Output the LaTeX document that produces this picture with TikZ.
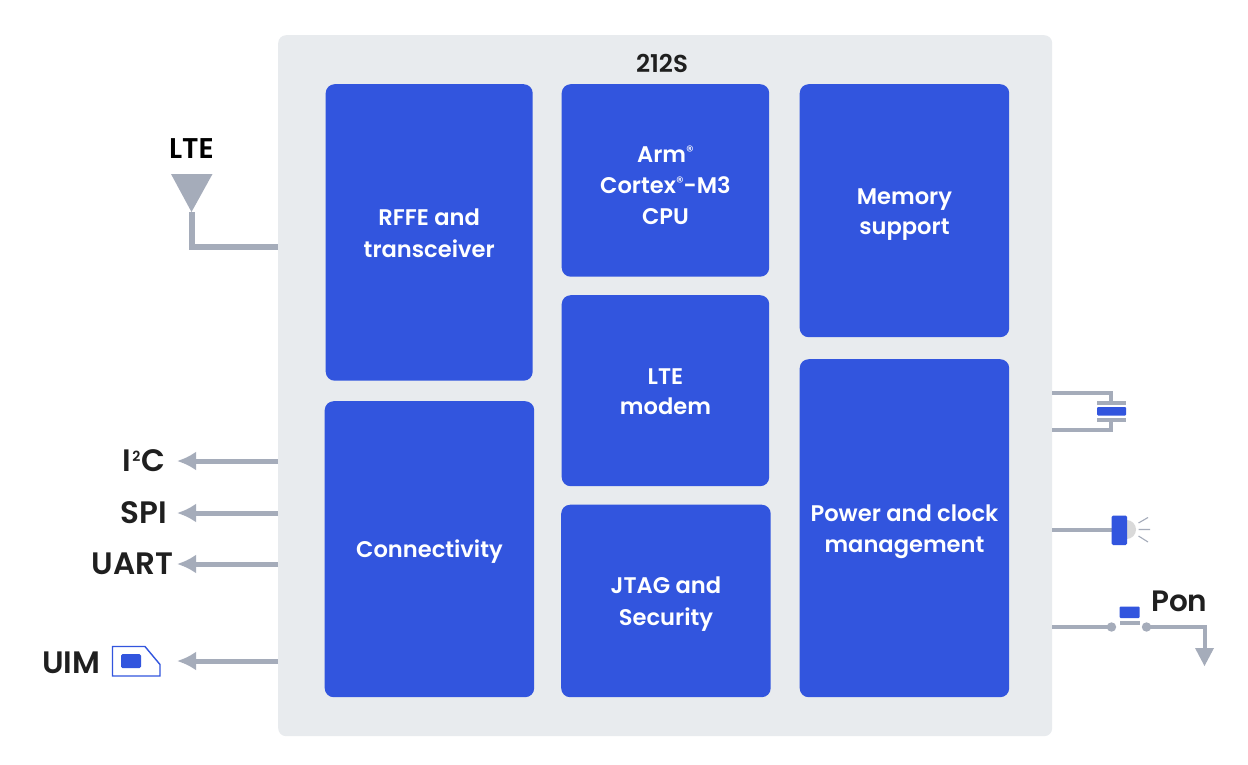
\documentclass[tikz,border=0pt]{standalone}
\usepackage{fontspec}
\setmainfont{Poppins SemiBold}
\newfontfamily\semibf{Poppins SemiBold}
\newfontfamily\regf{Poppins}
\usetikzlibrary{arrows.meta}
\definecolor{chipbg}{HTML}{E8EBEE}
\definecolor{blk}{HTML}{3255DE}
\definecolor{wire}{HTML}{A5ACBA}
\definecolor{ink}{HTML}{1F1F1F}
\definecolor{ledgrey}{HTML}{D9D9D9}
\newcommand{\regmark}{\raisebox{6pt}{\regf\fontsize{15}{15}\selectfont®}}
\newcommand{\sqtwo}{\kern1pt\raisebox{10.5pt}{\fontsize{14}{14}\selectfont 2}\kern1.5pt}
\tikzset{x=1pt,y=-1pt,
 chip/.style={draw=none,fill=chipbg,rounded corners=8pt,inner sep=0pt,anchor=north west},
 blockbox/.style={draw=none,fill=blk,rounded corners=9pt,inner sep=0pt,anchor=north west},
 blocktext/.style={text=white,font=\fontsize{22.6}{31}\selectfont,align=center,anchor=center},
 lbl/.style={text=ink,font=\semibf\fontsize{31}{32}\selectfont,inner sep=0pt},
 wireline/.style={draw=wire,line width=5pt},
 thinwire/.style={draw=wire,line width=4pt},
 sigarrow/.style={wireline,-{Latex[length=19pt,width=19pt,sharp]}},
}
\newcommand{\blk}[7]{\node[blockbox,minimum width=#4-#2,minimum height=#5-#3] (#1) at (#2,#3) {};
 \node[blocktext,yshift=#7] (#1t) at (#1.center) {#6};}
\begin{document}
\begin{tikzpicture}
\useasboundingbox (0,0) rectangle (1248,764);
\fill[white] (0,0) rectangle (1248,764);
\node[chip,minimum width=774pt,minimum height=701pt] (chip) at (278,35) {};
\node[lbl,font=\semibf\fontsize{24.5}{26}\selectfont] (title) at (662,63.5) {212S};
\blk{rffe}{325.5}{84}{532.5}{380.5}{RFFE and\\[1pt]transceiver}{-1pt}
\blk{conn}{324.5}{401}{534}{697}{Connectivity}{-2pt}
\blk{cpu}{561.5}{84}{769}{276.5}{Arm\regmark\\Cortex\regmark-M3\\CPU}{-5pt}
\blk{modem}{561.5}{295}{769}{486}{LTE\\[-1pt]modem}{-1pt}
\blk{jtag}{561}{504.5}{770.5}{697}{JTAG and\\[1pt]Security}{-3pt}
\blk{mem}{799.5}{84}{1009}{337}{Memory\\[-1pt]support}{-4pt}
\blk{pwr}{799.5}{359}{1009}{697}{Power and clock\\management}{-4pt}
% antenna
\node[lbl,font=\semibf\fontsize{28.5}{30}\selectfont,text=black] (lte) at (191.5,148.5) {LTE};
\coordinate (antA) at (171,174);
\coordinate (antB) at (212.5,174);
\coordinate (antC) at (191.5,212);
\coordinate (antK) at (191.5,246.5);
\coordinate (antE) at (278,246.5);
\fill[wire] (antA) -- (antB) -- (antC) -- cycle;
\draw[line width=6pt,wire] (antC) -- (antK.center) -- (antE);
% left arrows
\foreach \n/\t/\y/\xr in {i2c/{I\sqtwo C}/461/166,spi/SPI/513/167.5,uart/UART/564/173.5}{
  \node[lbl,anchor=east] (\n) at (\xr,\y) {\t};
  \coordinate (\n p) at (278,\y);
  \coordinate (\n q) at (177,\y);
  \draw[sigarrow] (\n p) -- (\n q);
}
\node[lbl,anchor=east] (uim) at (100.5,662.5) {UIM};
\coordinate (uimq) at (177,661);
\coordinate (uimp) at (278,661);
\draw[sigarrow] (uimp) -- (uimq);
\draw[draw=blk,line width=1.4pt] (112.5,646.5) -- (145,646.5) -- (160,664.5) -- (160,676) -- (112.5,676) -- cycle;
\fill[blk,rounded corners=1.5pt] (121,654) rectangle (141,668);
% crystal
\coordinate (xa) at (1052,392.5);
\coordinate (xb) at (1111,392.5);
\coordinate (xc) at (1111,430);
\coordinate (xd) at (1052,430);
\draw[thinwire] (xa) -- (xb) -- (1111,402);
\draw[thinwire] (xd) -- (xc) -- (1111,420);
\fill[wire] (1097,400.5) rectangle (1126,404.5);
\fill[wire] (1097,418) rectangle (1126,422);
\fill[blk,rounded corners=1pt] (1097,407) rectangle (1126,415.5);
% led
\coordinate (la) at (1052,530);
\coordinate (lb) at (1112,530);
\draw[thinwire] (la) -- (lb);
\fill[ledgrey] (1126.5,529.5) circle (9.5);
\fill[blk,rounded corners=1.5pt] (1111.5,515.5) rectangle (1127,545);
\draw[wire,line width=1.1pt] (1138.5,523) -- (1148,517.5) (1138.5,529.5) -- (1150,529.5) (1138.5,536) -- (1148,542);
% switch
\coordinate (sa) at (1052,627);
\coordinate (sb) at (1111.5,627);
\coordinate (sc) at (1146.5,627);
\coordinate (sd) at (1204.5,627);
\coordinate (se) at (1204.5,666);
\draw[thinwire] (sa) -- (sb);
\fill[wire] (sb) circle (4.7);
\fill[wire] (sc) circle (4.7);
\draw[thinwire] (sc) -- (sd) -- (1204.5,650);
\fill[wire] (1195,648) -- (1214,648) -- (se) -- cycle;
\fill[wire] (1119.5,620.5) rectangle (1139.5,624.5);
\fill[blk,rounded corners=1pt] (1119.5,606.5) rectangle (1139.5,618);
\node[lbl,anchor=west,font=\semibf\fontsize{29.5}{30}\selectfont] (pon) at (1151,601.5) {Pon};
\end{tikzpicture}
\end{document}
